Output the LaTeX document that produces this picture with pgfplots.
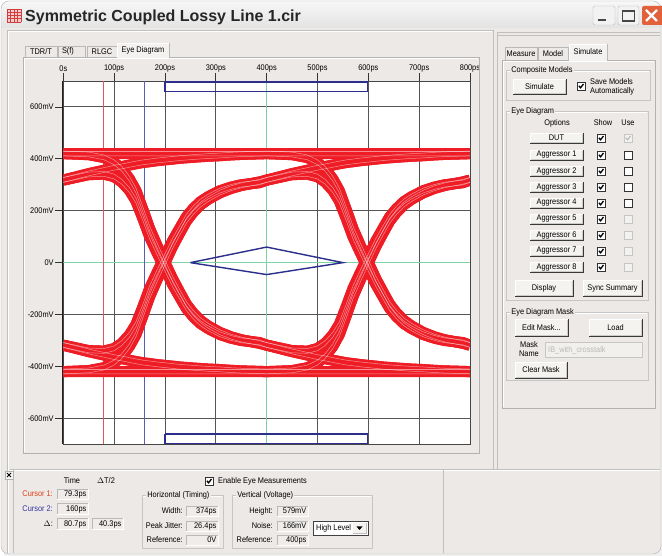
\documentclass[border=0pt]{standalone}
\usepackage{pgfplots}
\pgfplotsset{compat=1.18}
\usepackage{pgfplotstable}
\usepackage{fontspec}
\setmainfont{Liberation Sans}
\newfontfamily\uifont[FakeStretch=0.9]{Liberation Sans}
\newcommand{\uifs}{\uifont\fontsize{8.2}{9}\selectfont}
\definecolor{winbg}{HTML}{ECE9E6}
\definecolor{btnface}{HTML}{F4F3F0}
\definecolor{eyered}{HTML}{EE1C25}
\definecolor{gridc}{HTML}{555555}
\definecolor{grn}{HTML}{7DD3A3}
\definecolor{maskblue}{HTML}{2B2E8C}
\definecolor{curred}{HTML}{E05555}
\definecolor{curblue}{HTML}{5A5AB8}
\definecolor{closered}{HTML}{E2603A}
\definecolor{iconred}{HTML}{D23C3C}
\definecolor{lblred}{HTML}{E0401A}
\definecolor{lblblue}{HTML}{3535A0}

% eye diagram traces: t in ps, traces in mV (16 bit patterns)
\pgfplotstableread{
t T1 T2 T3 T4 T5 T6 T7 T8 N1 N2 N3 N4 N5 N6 N7 N8
0 -420 -420 -420 -420 318 318 318 318 420 420 420 420 -318 -318 -318 -318
50 -420 -420 -416 -416 339 339 343 343 420 420 416 416 -339 -339 -343 -343
80 -420 -420 -405 -405 341 341 356 356 420 420 405 405 -341 -341 -356 -356
100 -420 -420 -386 -386 331 331 365 365 420 420 386 386 -331 -331 -365 -365
115 -420 -420 -361 -361 311 311 370 370 420 420 361 361 -311 -311 -370 -370
130 -420 -420 -323 -323 279 279 376 376 420 420 323 323 -279 -279 -376 -376
143 -420 -420 -277 -277 238 238 381 381 420 420 277 277 -238 -238 -381 -381
157 -420 -420 -202 -202 168 168 386 386 420 420 202 202 -168 -168 -386 -386
170 -420 -420 -130 -130 99 99 389 389 420 420 130 130 -99 -99 -389 -389
185 -420 -420 -63 -63 36 36 393 393 420 420 63 63 -36 -36 -393 -393
200 -420 -420 0 0 -24 -24 396 396 420 420 0 0 24 24 -396 -396
215 -420 -420 63 63 -84 -84 399 399 420 420 -63 -63 84 84 -399 -399
229 -420 -420 114 114 -132 -132 402 402 420 420 -114 -114 132 132 -402 -402
242 -420 -420 160 160 -176 -176 404 404 420 420 -160 -160 176 176 -404 -404
255 -420 -420 193 193 -207 -207 406 406 420 420 -193 -193 207 207 -406 -406
270 -420 -420 223 223 -235 -235 408 408 420 420 -223 -223 235 235 -408 -408
285 -420 -420 244 244 -254 -254 410 410 420 420 -244 -244 254 254 -410 -410
308 -420 -420 269 269 -277 -277 412 412 420 420 -269 -269 277 277 -412 -412
330 -420 -420 286 286 -291 -291 415 415 420 420 -286 -286 291 291 -415 -415
350 -420 -420 297 297 -300 -300 417 417 420 420 -297 -297 300 300 -417 -417
386 -420 -420 311 311 -308 -308 419 419 420 420 -311 -311 308 308 -419 -419
400 -420 -420 318 318 -318 -318 420 420 420 420 -318 -318 318 318 -420 -420
450 -420 -416 339 343 -343 -339 416 420 420 416 -339 -343 343 339 -416 -420
480 -420 -405 341 356 -356 -341 405 420 420 405 -341 -356 356 341 -405 -420
500 -420 -386 331 365 -365 -331 386 420 420 386 -331 -365 365 331 -386 -420
515 -420 -361 311 370 -370 -311 361 420 420 361 -311 -370 370 311 -361 -420
530 -420 -323 279 376 -376 -279 323 420 420 323 -279 -376 376 279 -323 -420
543 -420 -277 238 381 -381 -238 277 420 420 277 -238 -381 381 238 -277 -420
557 -420 -202 168 386 -386 -168 202 420 420 202 -168 -386 386 168 -202 -420
570 -420 -130 99 389 -389 -99 130 420 420 130 -99 -389 389 99 -130 -420
585 -420 -63 36 393 -393 -36 63 420 420 63 -36 -393 393 36 -63 -420
600 -420 0 -24 396 -396 24 0 420 420 0 24 -396 396 -24 0 -420
615 -420 63 -84 399 -399 84 -63 420 420 -63 84 -399 399 -84 63 -420
629 -420 114 -132 402 -402 132 -114 420 420 -114 132 -402 402 -132 114 -420
642 -420 160 -176 404 -404 176 -160 420 420 -160 176 -404 404 -176 160 -420
655 -420 193 -207 406 -406 207 -193 420 420 -193 207 -406 406 -207 193 -420
670 -420 223 -235 408 -408 235 -223 420 420 -223 235 -408 408 -235 223 -420
685 -420 244 -254 410 -410 254 -244 420 420 -244 254 -410 410 -254 244 -420
708 -420 269 -277 412 -412 277 -269 420 420 -269 277 -412 412 -277 269 -420
730 -420 286 -291 415 -415 291 -286 420 420 -286 291 -415 415 -291 286 -420
750 -420 297 -300 417 -417 300 -297 420 420 -297 300 -417 417 -300 297 -420
786 -420 311 -308 419 -419 308 -311 420 420 -311 308 -419 419 -308 311 -420
800 -420 318 -318 420 -420 318 -318 420 420 -318 318 -420 420 -318 318 -420
}\eyedata

\tikzset{
 ui/.style={font=\uifs, inner sep=0pt, text=black},
}
% button: x1 y1 x2 y2 text
\newcommand{\btn}[5]{%
 \fill[btnface] (#1,#2) rectangle (#3,#4);
 \draw[white] (#1,#4) -- (#1,#2) -- (#3,#2);
 \draw[gray!45!black] (#1,#4) -- (#3,#4) -- (#3,#2);
 \draw[gray!40] (#1+1,#4-1) -- (#3-1,#4-1) -- (#3-1,#2+1);
 \node[ui] at ({(#1+#3)/2},{(#2+#4)/2}) {#5};}
% checkbox at top-left x y
\newcommand{\chkon}[2]{%
 \draw[gray!40!black, fill=white] (#1,#2) rectangle ++(8,8);
 \draw[black, line width=1.3pt] (#1+1.8,#2+3.8) -- (#1+3.6,#2+5.8) -- (#1+6.5,#2+2);}
\newcommand{\chkoff}[2]{%
 \draw[gray!40!black, fill=white] (#1,#2) rectangle ++(8,8);}
\newcommand{\chkdis}[2]{%
 \draw[gray!45, fill=winbg!60!white] (#1,#2) rectangle ++(8,8);}
\newcommand{\chkdison}[2]{%
 \draw[gray!45, fill=winbg!60!white] (#1,#2) rectangle ++(8,8);
 \draw[gray!55, line width=1.1pt] (#1+1.8,#2+3.8) -- (#1+3.6,#2+5.8) -- (#1+6.5,#2+2);}
% group box
\newcommand{\grp}[5]{%
 \draw[gray!45] (#1,#2) rectangle (#3,#4);
 \draw[white] (#1+1,#2+1) -- (#3-1,#2+1);
 \node[ui, fill=winbg, inner xsep=1.2pt, inner ysep=1pt, anchor=mid west] at (#1+4,#2) {#5};}
% read-only field
\newcommand{\fld}[5]{%
 \fill[winbg!85!white] (#1,#2) rectangle (#3,#4);
 \draw[gray!55] (#1,#4) -- (#1,#2) -- (#3,#2);
 \draw[white] (#1,#4) -- (#3,#4) -- (#3,#2);
 \node[ui, anchor=mid east] at (#3-1.5,{(#2+#4)/2}) {#5};}

\begin{document}
\begin{tikzpicture}[x=1pt,y=1pt]
\useasboundingbox (0,0) rectangle (662,556);
\fill[white] (0,0) rectangle (662,556);
\begin{scope}[yshift=556pt, y=-1pt]
 % window body
 \fill[gray!12] (4,5) rectangle (662,556);
 \fill[winbg, rounded corners=8pt] (1,1) rectangle (661,554);
 \begin{scope}
  \clip[rounded corners=8pt] (1,1) rectangle (661,554);
  \shade[top color=gray!6, bottom color=gray!22] (1,1) rectangle (661,28);
 \end{scope}
 \draw[gray!60, rounded corners=8pt] (1,1) rectangle (661,554);
 % icon
 \fill[iconred!25] (7,9) rectangle (21,22);
 \foreach \k in {9,12.25,15.5,18.75,22} \draw[iconred, line width=0.7pt] (7,\k) -- (21,\k);
 \foreach \k in {7,10.5,14,17.5,21} \draw[iconred, line width=0.7pt] (\k,9) -- (\k,22);
 % title
 \node[anchor=base west, inner sep=0pt, font=\bfseries\fontsize{16}{18}\selectfont, text=black!85] at (25,22) {Symmetric Coupled Lossy Line 1.cir};
 % window buttons
 \draw[gray!55, fill=gray!10, rounded corners=2pt] (593,6) rectangle (615,25);
 \fill[gray!55!black] (598,19) rectangle (606,21.5);
 \draw[gray!55, fill=gray!10, rounded corners=2pt] (618,6) rectangle (639,25);
 \draw[gray!55!black, line width=1.1pt] (622.5,10.5) rectangle (634.5,21);
 \draw[gray!55!black, line width=2pt] (622.5,11) -- (634.5,11);
 \fill[closered, rounded corners=2pt] (642,6) rectangle (664,25);
 \draw[white, line width=2.4pt] (646,10) -- (657,21) (657,10) -- (646,21);
 % pane borders
 \draw[gray!50] (7,553) -- (7,30) -- (493,30) -- (493,469);
 \draw[white] (8,553) -- (8,31) -- (492,31);
 \draw[gray!50] (497,469) -- (497,32) -- (660,32);
 \draw[gray!50] (497,35) -- (660,35);
 \draw[gray!50] (10,469) -- (660,469);
 \draw[white] (10,470) -- (660,470);
 \draw[gray!50] (13,470) -- (13,553);
 \draw[gray!50] (443,470) -- (443,553);
 % left tabs
 \draw[gray!60] (23,453) -- (23,57) -- (479,57) -- (479,453) -- cycle;
 \draw[white] (24,452) -- (24,58) -- (478,58);
 \draw[gray!55, fill=winbg] (25,57) -- (25,46) -- (57,46) -- (57,57);
 \node[ui] at (41,51.5) {TDR/T};
 \draw[gray!55, fill=winbg] (58,57) -- (58,46) -- (85,46) -- (85,57);
 \node[ui] at (68,51.5) {S(f)};
 \draw[gray!55, fill=winbg] (87,57) -- (87,46) -- (117,46) -- (117,57);
 \node[ui] at (102,51.5) {RLGC};
 \fill[winbg!60!white] (117,43) rectangle (169,58);
 \draw[white] (117,57) -- (117,43) -- (169,43);
 \draw[gray!55] (169,43) -- (169,57);
 \node[ui] at (143,50) {Eye Diagram};
 % right tabs
 \draw[gray!60] (502,60) rectangle (655,408);
 \draw[white] (503,407) -- (503,61) -- (654,61);
 \draw[gray!55, fill=winbg] (505,60) -- (505,47) -- (537,47) -- (537,60);
 \node[ui] at (521,54) {Measure};
 \draw[gray!55, fill=winbg] (538,60) -- (538,47) -- (568,47) -- (568,60);
 \node[ui] at (553,54) {Model};
 \fill[winbg!60!white] (569,44) rectangle (607,61);
 \draw[white] (569,60) -- (569,44) -- (607,44);
 \draw[gray!55] (607,44) -- (607,60);
 \node[ui] at (588,51.5) {Simulate};
 % composite models
 \grp{506}{70}{650}{100}{Composite Models}
 \btn{513}{79}{566}{94}{Simulate}
 \chkon{577}{82}
 \node[ui, anchor=mid west] at (590,82) {Save Models};
 \node[ui, anchor=mid west] at (590,91) {Automatically};
 % eye diagram group
 \grp{506}{111}{648}{300}{Eye Diagram}
 \node[ui] at (557,123) {Options};
 \node[ui] at (603,123) {Show};
 \node[ui] at (628,123) {Use};
 \btn{530}{133}{583}{143}{DUT}
 \chkon{597}{134}\chkdison{624}{134}
 \btn{530}{150}{583}{160}{Aggressor 1}
 \chkon{597}{151}\chkoff{624}{151}
 \btn{530}{166}{583}{176}{Aggressor 2}
 \chkon{597}{167}\chkoff{624}{167}
 \btn{530}{182}{583}{192}{Aggressor 3}
 \chkon{597}{183}\chkoff{624}{183}
 \btn{530}{198}{583}{208}{Aggressor 4}
 \chkon{597}{199}\chkoff{624}{199}
 \btn{530}{214}{583}{224}{Aggressor 5}
 \chkon{597}{215}\chkdis{624}{215}
 \btn{530}{230}{583}{240}{Aggressor 6}
 \chkon{597}{231}\chkdis{624}{231}
 \btn{530}{246}{583}{256}{Aggressor 7}
 \chkon{597}{247}\chkdis{624}{247}
 \btn{530}{262}{583}{272}{Aggressor 8}
 \chkon{597}{263}\chkdis{624}{263}
 \btn{515}{280}{573}{296}{Display}
 \btn{583}{280}{642}{296}{Sync Summary}
 % mask group
 \grp{506}{312}{648}{380}{Eye Diagram Mask}
 \btn{515}{319}{568}{336}{Edit Mask...}
 \btn{589}{319}{642}{336}{Load}
 \node[ui] at (529,345) {Mask};
 \node[ui] at (529,354) {Name};
 \fill[winbg!70!white] (545,342) rectangle (642,357);
 \draw[gray!45] (545,342) rectangle (642,357);
 \node[ui, anchor=mid west, text=gray!55] at (548,349.5) {IB\_with\_crosstalk};
 \btn{515}{362}{567}{378}{Clear Mask}
 % bottom panel
 \draw[gray!60, fill=winbg!50!white] (5,471) rectangle (13,479);
 \draw[black, line width=0.8pt] (7,473) -- (11,477) (11,473) -- (7,477);
 \node[ui] at (72,481) {Time};
 \node[ui] at (106,481) {$\Delta$T/2};
 \node[ui, anchor=mid east, text=lblred] at (53,494) {Cursor 1:};
 \fld{57}{489}{88}{499}{79.3ps}
 \node[ui, anchor=mid east, text=lblblue] at (53,509) {Cursor 2:};
 \fld{57}{503}{88}{514}{160ps}
 \node[ui, anchor=mid east] at (53,524) {$\Delta$:};
 \fld{57}{518}{88}{529}{80.7ps}
 \fld{92}{518}{123}{529}{40.3ps}
 \chkon{205}{477}
 \node[ui, anchor=mid west] at (218,481) {Enable Eye Measurements};
 \grp{142}{495}{223}{548}{Horizontal (Timing)}
 \node[ui, anchor=mid east] at (183,511) {Width:};
 \fld{186}{506}{218}{516}{374ps}
 \node[ui, anchor=mid east] at (183,526) {Peak Jitter:};
 \fld{186}{521}{218}{531}{26.4ps}
 \node[ui, anchor=mid east] at (183,540) {Reference:};
 \fld{186}{535}{218}{545}{0V}
 \grp{232}{495}{372}{548}{Vertical (Voltage)}
 \node[ui, anchor=mid east] at (273,511) {Height:};
 \fld{277}{506}{308}{516}{579mV}
 \node[ui, anchor=mid east] at (273,526) {Noise:};
 \fld{277}{521}{308}{531}{166mV}
 \node[ui, anchor=mid east] at (273,540) {Reference:};
 \fld{277}{535}{308}{545}{400ps}
 \draw[gray!50!black, fill=white] (313,521) rectangle (368,535);
 \node[ui, anchor=mid west] at (316,528) {High Level};
 \fill[btnface] (353,523) rectangle (366,533);
 \draw[gray!50] (353,533) -- (366,533) -- (366,523);
 \fill[black] (356.5,526.5) -- (362.5,526.5) -- (359.5,530) -- cycle;
\end{scope}

\begin{axis}[at={(63.3pt,111.7pt)}, anchor=south west, scale only axis,
 width=406.7pt, height=363.3pt,
 xmin=0, xmax=800, ymin=-700, ymax=700,
 axis background/.style={fill=white},
 axis line style={draw=gray!55!black, line width=0.8pt},
 xtick={0,100,...,800},
 xticklabels={0s,100ps,200ps,300ps,400ps,500ps,600ps,700ps,800ps},
 ytick={-600,-400,-200,0,200,400,600},
 yticklabels={-600mV,-400mV,-200mV,0V,200mV,400mV,600mV},
 xtick pos=right, xticklabel pos=right, ytick pos=left,
 tick align=outside, major tick length=8pt,
 every tick/.style={draw=gray!40!black, line width=0.8pt},
 grid=major, major grid style={draw=gridc, line width=0.9pt},
 ticklabel style={font=\uifs, text=black},
 xticklabel style={inner sep=1pt},
 yticklabel style={inner sep=1.5pt},
]
\addplot[grn, line width=1.1pt] coordinates {(0,0) (800,0)};
\addplot[grn, line width=1.1pt] coordinates {(400,-700) (400,700)};
\addplot[curred, line width=0.8pt] coordinates {(79.3,-700) (79.3,700)};
\addplot[curblue, line width=0.8pt] coordinates {(160,-700) (160,700)};
\pgfplotsinvokeforeach{T1,T2,T3,T4,T5,T6,T7,T8,N1,N2,N3,N4,N5,N6,N7,N8}{
 \addplot[eyered, line width=11pt, line join=round] table[x=t, y=#1] {\eyedata};
}
% faint streaks that give the bands their many-trace texture
\pgfplotsinvokeforeach{T1,T3,T5,T7,N1,N3,N5,N7}{
 \addplot[white, opacity=0.5, line width=0.5pt, yshift=2.6pt] table[x=t, y=#1] {\eyedata};
}
\pgfplotsinvokeforeach{T2,T4,T6,T8,N2,N4,N6,N8}{
 \addplot[white, opacity=0.5, line width=0.5pt, yshift=-2.2pt] table[x=t, y=#1] {\eyedata};
}
\addplot[maskblue, line width=1.4pt] coordinates {(250,0) (400,60) (550,0) (400,-46) (250,0)};
\addplot[maskblue, line width=1.4pt] coordinates {(200,696) (598,696) (598,660) (200,660) (200,696)};
\addplot[maskblue, line width=1.4pt] coordinates {(200,-660) (598,-660) (598,-696) (200,-696) (200,-660)};
\end{axis}

\begin{scope}[yshift=556pt, y=-1pt]
 \fill[winbg] (478.6,58) rectangle (492.5,79);
 \draw[gray!60] (479,57) -- (479,453);
 \draw[gray!25!black, line width=1.6pt] (62.4,81) -- (62.4,444.3);
\end{scope}
\end{tikzpicture}
\end{document}
